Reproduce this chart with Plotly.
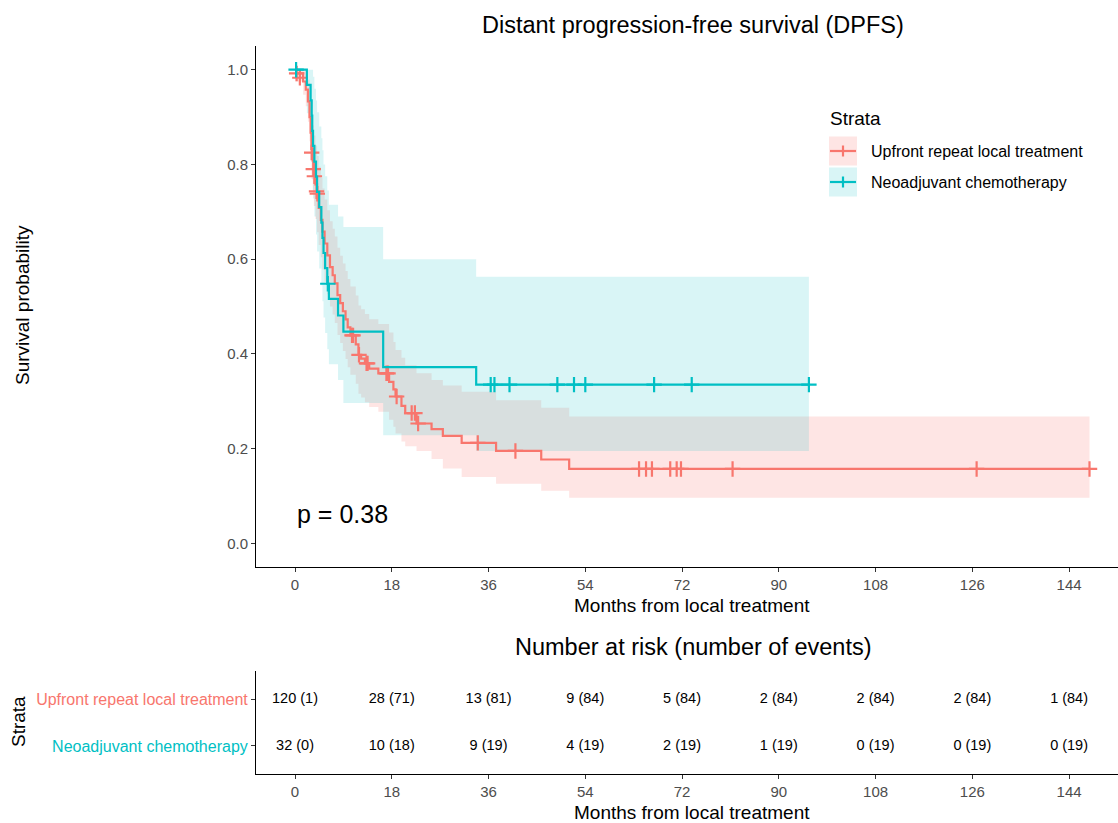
import plotly.graph_objects as go

# ---------------- data ----------------
RED = "#F8766D"
TEAL = "#00BFC4"
strata = ["Upfront repeat local treatment", "Neoadjuvant chemotherapy"]

# Upfront repeat local treatment: KM step times, survival, CI
red_t = [0, 1.5, 2.0, 2.4, 2.7, 2.9, 3.05, 3.3, 3.5, 3.8, 4.1, 4.4, 4.8, 5.1, 5.5, 6.0,
         6.5, 7.0, 7.4, 7.9, 8.4, 8.9, 9.4, 9.8, 10.3, 11.3, 11.8, 12.3, 13.0, 13.8, 15.5,
         17.5, 18.3, 18.7, 19.8, 20.5, 22.6, 25.4, 27.5, 31.0, 37.4, 45.8, 51.0]
red_s = [0.992, 0.975, 0.958, 0.933, 0.900, 0.867, 0.833, 0.808, 0.783, 0.758, 0.733, 0.708,
         0.683, 0.658, 0.633, 0.608, 0.583, 0.566, 0.549, 0.524, 0.507, 0.490, 0.473, 0.456,
         0.439, 0.420, 0.398, 0.390, 0.380, 0.369, 0.359, 0.341, 0.325, 0.310, 0.290, 0.275,
         0.253, 0.241, 0.227, 0.212, 0.195, 0.177, 0.157]
red_up = [1.0, 1.0, 0.995, 0.979, 0.955, 0.930, 0.903, 0.882, 0.861, 0.840, 0.818, 0.795,
          0.772, 0.749, 0.726, 0.703, 0.680, 0.664, 0.648, 0.624, 0.607, 0.591, 0.575, 0.558,
          0.542, 0.523, 0.502, 0.494, 0.484, 0.473, 0.463, 0.445, 0.425, 0.408, 0.392, 0.376,
          0.359, 0.345, 0.333, 0.320, 0.302, 0.286, 0.268]
red_lo = [0.975, 0.947, 0.923, 0.890, 0.849, 0.808, 0.769, 0.740, 0.712, 0.685, 0.657, 0.630,
          0.604, 0.578, 0.552, 0.526, 0.500, 0.483, 0.465, 0.440, 0.423, 0.406, 0.389, 0.372,
          0.356, 0.337, 0.316, 0.308, 0.298, 0.288, 0.278, 0.261, 0.246, 0.232, 0.215, 0.205,
          0.195, 0.178, 0.158, 0.140, 0.126, 0.111, 0.096]
red_end = 147.8
red_cens_t = [0.3, 0.9, 3.1, 3.4, 3.6, 4.0, 4.15, 10.6, 10.8, 11.9, 13.3, 13.5, 17.0, 17.3,
              18.9, 21.7, 22.3, 22.9, 34.0, 41.0, 64.0, 65.3, 66.4, 69.8, 71.0, 71.8, 81.4,
              126.8, 147.8]
red_cens_s = [0.992, 0.983, 0.825, 0.790, 0.775, 0.743, 0.738, 0.439, 0.439, 0.398, 0.380,
              0.380, 0.359, 0.359, 0.310, 0.275, 0.275, 0.253, 0.212, 0.195, 0.157, 0.157,
              0.157, 0.157, 0.157, 0.157, 0.157, 0.157, 0.157]

# Neoadjuvant chemotherapy
teal_t = [0, 2.2, 2.9, 3.1, 3.2, 3.35, 3.6, 3.9, 4.1, 4.5, 4.9, 5.1, 5.3, 5.6, 6.0, 6.3,
          8.0, 9.0, 16.4, 33.7]
teal_s = [1.0, 0.968, 0.935, 0.903, 0.871, 0.839, 0.806, 0.774, 0.742, 0.710, 0.677, 0.645,
          0.613, 0.581, 0.548, 0.516, 0.481, 0.447, 0.372, 0.335]
teal_up = [1.0, 1.0, 1.0, 1.0, 1.0, 0.985, 0.96, 0.935, 0.91, 0.88, 0.855, 0.83, 0.80,
           0.775, 0.745, 0.715, 0.69, 0.668, 0.60, 0.563]
teal_lo = [1.0, 0.908, 0.855, 0.811, 0.768, 0.728, 0.690, 0.652, 0.616, 0.580, 0.545, 0.511,
           0.477, 0.444, 0.410, 0.378, 0.345, 0.296, 0.228, 0.195]
teal_end = 95.6
teal_cens_t = [0.2, 6.1, 36.4, 37.1, 39.9, 48.8, 51.9, 54.0, 66.8, 73.8, 95.6]
teal_cens_s = [1.0, 0.548, 0.335, 0.335, 0.335, 0.335, 0.335, 0.335, 0.335, 0.335, 0.335]

# Risk table
risk_times = [0, 18, 36, 54, 72, 90, 108, 126, 144]
red_risk = ["120 (1)", "28 (71)", "13 (81)", "9 (84)", "5 (84)", "2 (84)", "2 (84)", "2 (84)", "1 (84)"]
teal_risk = ["32 (0)", "10 (18)", "9 (19)", "4 (19)", "2 (19)", "1 (19)", "0 (19)", "0 (19)", "0 (19)"]

x_ticks = [0, 18, 36, 54, 72, 90, 108, 126, 144]
y_ticks = [0.0, 0.2, 0.4, 0.6, 0.8, 1.0]
p_text = "p = 0.38"

# ---------------- figure ----------------
W, H = 1118, 823
FONT = "Liberation Sans, Arial, sans-serif"
TICKC = "#4D4D4D"
ALPHA = {RED: 0.19, TEAL: 0.15}


def px(x):
    return x / W


def py(y):
    return (H - y) / H


def rgba(hexc, a):
    h = hexc.lstrip("#")
    return "rgba(%d,%d,%d,%s)" % (int(h[0:2], 16), int(h[2:4], 16), int(h[4:6], 16), a)


fig = go.Figure()

xr = [-7.26, 153.1]


def band(t, lo, up, end, color):
    xs = list(t) + [end]
    fig.add_trace(go.Scatter(x=xs, y=list(lo) + [lo[-1]], mode="lines", line=dict(width=0, shape="hv"),
                             hoverinfo="skip", showlegend=False, xaxis="x", yaxis="y"))
    fig.add_trace(go.Scatter(x=xs, y=list(up) + [up[-1]], mode="lines", line=dict(width=0, shape="hv"),
                             fill="tonexty", fillcolor=rgba(color, ALPHA[color]),
                             hoverinfo="skip", showlegend=False, xaxis="x", yaxis="y"))


band(red_t, red_lo, red_up, red_end, RED)
band(teal_t, teal_lo, teal_up, teal_end, TEAL)

for t, s, end, ct, cs, col, name in [
    (red_t, red_s, red_end, red_cens_t, red_cens_s, RED, strata[0]),
    (teal_t, teal_s, teal_end, teal_cens_t, teal_cens_s, TEAL, strata[1]),
]:
    fig.add_trace(go.Scatter(x=list(t) + [end], y=list(s) + [s[-1]], mode="lines",
                             line=dict(color=col, width=2.2, shape="hv"), name=name,
                             showlegend=False, xaxis="x", yaxis="y"))
    fig.add_trace(go.Scatter(x=ct, y=cs, mode="markers",
                             marker=dict(symbol="cross-thin", size=11, line=dict(width=2.2, color=col)),
                             showlegend=False, xaxis="x", yaxis="y"))

# risk table text
fig.add_trace(go.Scatter(x=risk_times, y=[2] * len(risk_times), text=red_risk, mode="text",
                         textfont=dict(size=14.5, color="black", family=FONT), showlegend=False,
                         xaxis="x2", yaxis="y2"))
fig.add_trace(go.Scatter(x=risk_times, y=[1] * len(risk_times), text=teal_risk, mode="text",
                         textfont=dict(size=14.5, color="black", family=FONT), showlegend=False,
                         xaxis="x2", yaxis="y2"))

axis_common = dict(showline=True, linecolor="black", linewidth=1, ticks="outside", ticklen=4,
                   tickcolor="#333333", tickwidth=1, showgrid=False, zeroline=False,
                   tickfont=dict(size=15, color=TICKC, family=FONT), automargin=False)

fig.update_layout(
    width=W, height=H, margin=dict(l=0, r=0, t=0, b=0),
    paper_bgcolor="white", plot_bgcolor="white",
    font=dict(family=FONT),
    xaxis=dict(domain=[px(256), 1.0], range=xr, tickvals=x_ticks, anchor="y", **axis_common),
    yaxis=dict(domain=[py(567), py(46)], range=[-0.05, 1.05], tickvals=y_ticks, tickformat=".1f",
               anchor="x", **axis_common),
    xaxis2=dict(domain=[px(256), 1.0], range=xr, tickvals=x_ticks, anchor="y2", **axis_common),
    yaxis2=dict(domain=[py(774), py(671)], range=[0.4, 2.6], tickvals=[2, 1],
                ticktext=["<span style='color:%s'>%s</span>" % (RED, strata[0]),
                          "<span style='color:%s'>%s</span>" % (TEAL, strata[1])],
                anchor="x2", **{**axis_common, "tickfont": dict(size=16, color=TICKC, family=FONT)}),
    showlegend=False,
)

ann = []
ann.append(dict(text="Distant progression-free survival (DPFS)", x=px(693), y=py(25), xref="paper",
                yref="paper", showarrow=False, font=dict(size=23.5, color="black", family=FONT),
                xanchor="center", yanchor="middle"))
ann.append(dict(text="Survival probability", x=px(22), y=py(305), xref="paper", yref="paper",
                showarrow=False, textangle=-90, font=dict(size=19, color="black", family=FONT),
                xanchor="center", yanchor="middle"))
ann.append(dict(text="Months from local treatment", x=px(692), y=py(605), xref="paper", yref="paper",
                showarrow=False, font=dict(size=19, color="black", family=FONT),
                xanchor="center", yanchor="middle"))
ann.append(dict(text="Number at risk (number of events)", x=px(693), y=py(647), xref="paper",
                yref="paper", showarrow=False, font=dict(size=23.5, color="black", family=FONT),
                xanchor="center", yanchor="middle"))
ann.append(dict(text="Strata", x=px(18), y=py(722), xref="paper", yref="paper", showarrow=False,
                textangle=-90, font=dict(size=19, color="black", family=FONT),
                xanchor="center", yanchor="middle"))
ann.append(dict(text="Months from local treatment", x=px(692), y=py(812), xref="paper", yref="paper",
                showarrow=False, font=dict(size=19, color="black", family=FONT),
                xanchor="center", yanchor="middle"))
ann.append(dict(text=p_text, x=0, y=0.061, xref="x", yref="y", showarrow=False,
                font=dict(size=25, color="black", family=FONT), xanchor="left", yanchor="middle"))
# legend
ann.append(dict(text="Strata", x=px(828), y=py(118), xref="paper", yref="paper", showarrow=False,
                font=dict(size=19, color="black", family=FONT), xanchor="left", yanchor="middle"))
shapes = []
for i, (name, col) in enumerate(zip(strata, [RED, TEAL])):
    cy = 151 + 31 * i
    shapes.append(dict(type="rect", xref="paper", yref="paper", x0=px(829), x1=px(857),
                       y0=py(cy + 14.5), y1=py(cy - 14.5), fillcolor=rgba(col, ALPHA[col]),
                       line=dict(width=0), layer="below"))
    shapes.append(dict(type="line", xref="paper", yref="paper", x0=px(830), x1=px(856),
                       y0=py(cy), y1=py(cy), line=dict(color=col, width=2.2)))
    shapes.append(dict(type="line", xref="paper", yref="paper", x0=px(843), x1=px(843),
                       y0=py(cy - 5.5), y1=py(cy + 5.5), line=dict(color=col, width=2.2)))
    ann.append(dict(text=name, x=px(869), y=py(cy), xref="paper", yref="paper", showarrow=False,
                    font=dict(size=16, color="black", family=FONT), xanchor="left", yanchor="middle"))

fig.update_layout(annotations=ann, shapes=shapes)
fig.write_html("out.html", config={"displayModeBar": False},
               post_script="document.body.style.margin='0px';document.body.style.padding='0px';"
                           "document.body.style.overflow='hidden';")
